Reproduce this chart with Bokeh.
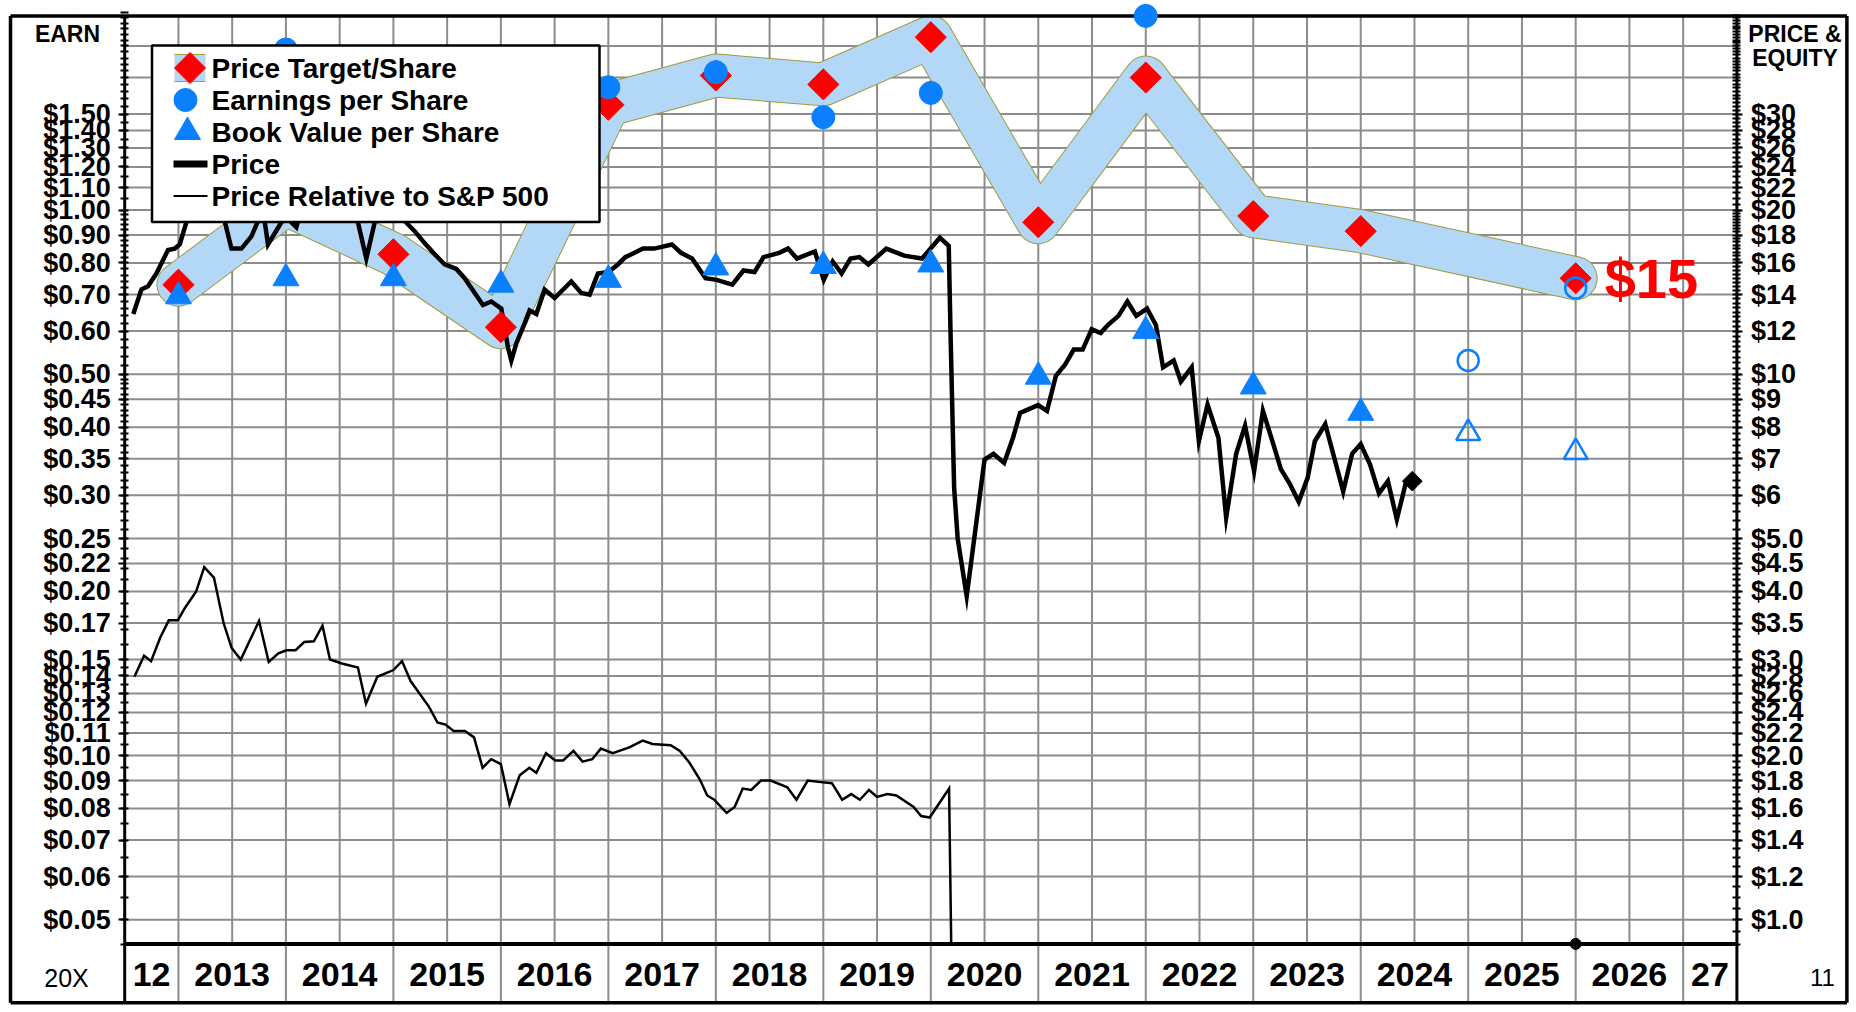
import math
from bokeh.plotting import figure
from bokeh.models import Range1d, LogAxis, LogScale, FixedTicker, CustomJSTickFormatter
from bokeh.core.properties import value
from bokeh.embed import file_html
from bokeh.resources import INLINE

# ---------------- data ----------------
target_years = [2013, 2014, 2015, 2016, 2017, 2018, 2019, 2020, 2021, 2022, 2023, 2024, 2026]
target_values = [14.6, 20.5, 16.6, 12.2, 31.2, 35.3, 34.0, 41.5, 19.0, 35.0, 19.5, 18.3, 15.0]

eps_years = [2014, 2017, 2018, 2019, 2020, 2022]
eps_values = [1.97, 1.68, 1.79, 1.48, 1.64, 2.27]
eps_est_years = [2025, 2026]
eps_est_values = [0.53, 0.72]

bvps_years = [2013, 2014, 2015, 2016, 2017, 2018, 2019, 2020, 2021, 2022, 2023, 2024]
bvps_values = [13.9, 15.0, 15.0, 14.6, 14.9, 15.7, 15.8, 15.9, 9.9, 12.0, 9.5, 8.5]
bvps_est_years = [2025, 2026]
bvps_est_values = [7.8, 7.2]

price_dates = [
    2012.58, 2012.655, 2012.717, 2012.795, 2012.903, 2012.965,
    2013.012, 2013.074, 2013.13, 2013.2, 2013.3, 2013.43, 2013.493, 2013.586, 2013.679, 2013.74, 2013.78, 2013.833, 2013.958,
    2014.0, 2014.05, 2014.097, 2014.17, 2014.25, 2014.35, 2014.45, 2014.55, 2014.67, 2014.748, 2014.826, 2014.9,
    2015.0, 2015.105, 2015.198, 2015.29, 2015.384, 2015.477, 2015.586, 2015.663, 2015.725, 2015.833, 2015.911,
    2016.004, 2016.066, 2016.097, 2016.144, 2016.221, 2016.267, 2016.33, 2016.407, 2016.5, 2016.655, 2016.748, 2016.826, 2016.903,
    2017.0, 2017.089, 2017.157, 2017.244, 2017.322, 2017.427, 2017.592, 2017.676, 2017.779, 2017.904,
    2018.008, 2018.153, 2018.257, 2018.36, 2018.444, 2018.589, 2018.672, 2018.755, 2018.921,
    2019.004, 2019.087, 2019.17, 2019.253, 2019.336, 2019.419, 2019.586, 2019.752, 2019.918,
    2020.084, 2020.167, 2020.184, 2020.217, 2020.25, 2020.334, 2020.417, 2020.5, 2020.583, 2020.682, 2020.765, 2020.831, 2020.998,
    2021.081, 2021.164, 2021.247, 2021.33, 2021.413, 2021.497, 2021.58, 2021.645, 2021.746, 2021.829, 2021.912,
    2022.012, 2022.095, 2022.161, 2022.26, 2022.327, 2022.427, 2022.494, 2022.575, 2022.676, 2022.748, 2022.841, 2022.924,
    2023.008, 2023.09, 2023.173, 2023.257, 2023.34, 2023.423, 2023.506, 2023.573, 2023.67, 2023.753, 2023.837, 2023.92,
    2024.0, 2024.087, 2024.17, 2024.253, 2024.336, 2024.42, 2024.48,
]
price_values = [
    12.9, 14.3, 14.5, 15.3, 16.9, 17.0,
    17.3, 19.0, 21.5, 23.0, 21.0, 19.1, 17.0, 17.0, 17.9, 19.1, 20.5, 17.3, 19.0,
    20.5, 19.0, 18.6, 21.0, 22.5, 21.0, 22.0, 20.5, 19.0, 16.3, 19.0, 21.0,
    20.0, 19.1, 18.3, 17.4, 16.6, 15.9, 15.6, 15.0, 14.4, 13.4, 13.6,
    13.2, 11.2, 10.6, 11.4, 12.4, 13.1, 12.9, 14.3, 13.8, 14.8, 14.1, 14.0, 15.3,
    15.4, 15.9, 16.4, 16.7, 17.0, 17.0, 17.3, 16.7, 16.3, 15.0,
    14.9, 14.6, 15.5, 15.4, 16.4, 16.7, 17.0, 16.3, 16.8,
    14.9, 16.1, 15.3, 16.3, 16.4, 15.9, 17.0, 16.5, 16.3,
    17.8, 17.2, 11.8, 6.2, 5.0, 3.92, 5.23, 6.98, 7.15, 6.88, 7.65, 8.5, 8.78,
    8.57, 9.94, 10.4, 11.1, 11.1, 12.1, 11.9, 12.3, 12.8, 13.6, 12.8,
    13.2, 12.3, 10.3, 10.6, 9.7, 10.3, 7.54, 8.8, 7.65, 5.46, 7.15, 8.05,
    6.65, 8.57, 7.6, 6.7, 6.3, 5.84, 6.46, 7.54, 8.1, 7.04, 6.1, 7.15,
    7.45, 6.83, 6.05, 6.37, 5.42, 6.33, 6.37,
]

rel_dates = [
    2012.59, 2012.68, 2012.745, 2012.83, 2012.91, 2012.995,
    2013.06, 2013.165, 2013.24, 2013.33, 2013.42, 2013.495, 2013.58, 2013.75, 2013.84, 2013.93,
    2014.005, 2014.09, 2014.17, 2014.26, 2014.34, 2014.41, 2014.52, 2014.67, 2014.745, 2014.85,
    2015.0, 2015.08, 2015.16, 2015.33, 2015.41, 2015.485, 2015.56, 2015.665, 2015.75, 2015.83, 2015.91,
    2016.0, 2016.08, 2016.175, 2016.265, 2016.33, 2016.42, 2016.505, 2016.58, 2016.675, 2016.76, 2016.85, 2016.93,
    2017.04, 2017.195, 2017.32, 2017.41, 2017.58, 2017.665, 2017.755, 2017.85, 2017.92, 2017.985,
    2018.1, 2018.175, 2018.25, 2018.33, 2018.42, 2018.51, 2018.665, 2018.75, 2018.855, 2018.955,
    2019.08, 2019.175, 2019.26, 2019.34, 2019.425, 2019.5, 2019.595, 2019.68, 2019.84, 2019.91, 2019.99,
    2020.17, 2020.19,
]
rel_values = [
    2.79, 3.05, 2.98, 3.29, 3.54, 3.54,
    3.73, 4.0, 4.43, 4.24, 3.5, 3.15, 3.0, 3.53, 2.97, 3.08,
    3.12, 3.12, 3.23, 3.24, 3.46, 3.0, 2.95, 2.9, 2.49, 2.79,
    2.87, 2.98, 2.74, 2.46, 2.3, 2.28, 2.22, 2.22, 2.16, 1.9, 1.97,
    1.93, 1.63, 1.84, 1.9, 1.86, 2.02, 1.96, 1.96, 2.04, 1.95, 1.97, 2.06,
    2.02, 2.07, 2.13, 2.1, 2.09, 2.04, 1.94, 1.81, 1.69, 1.66,
    1.57, 1.61, 1.74, 1.73, 1.8, 1.8, 1.75, 1.66, 1.8, 1.79,
    1.78, 1.66, 1.7, 1.66, 1.73, 1.68, 1.7, 1.69, 1.61, 1.55, 1.54,
    1.74, 0.9,
]

earn_ticks = [0.05, 0.06, 0.07, 0.08, 0.09, 0.10, 0.11, 0.12, 0.13, 0.14, 0.15, 0.175, 0.20,
              0.225, 0.25, 0.30, 0.35, 0.40, 0.45, 0.50, 0.60, 0.70, 0.80, 0.90, 1.00, 1.10,
              1.20, 1.30, 1.40, 1.50]
earn_labels = ["$0.05", "$0.06", "$0.07", "$0.08", "$0.09", "$0.10", "$0.11", "$0.12", "$0.13",
               "$0.14", "$0.15", "$0.17", "$0.20", "$0.22", "$0.25", "$0.30", "$0.35", "$0.40",
               "$0.45", "$0.50", "$0.60", "$0.70", "$0.80", "$0.90", "$1.00", "$1.10", "$1.20",
               "$1.30", "$1.40", "$1.50"]
price_ticks = [1.0, 1.2, 1.4, 1.6, 1.8, 2.0, 2.2, 2.4, 2.6, 2.8, 3.0, 3.5, 4.0, 4.5, 5.0, 6, 7, 8,
               9, 10, 12, 14, 16, 18, 20, 22, 24, 26, 28, 30]
price_labels = ["$1.0", "$1.2", "$1.4", "$1.6", "$1.8", "$2.0", "$2.2", "$2.4", "$2.6", "$2.8",
                "$3.0", "$3.5", "$4.0", "$4.5", "$5.0", "$6", "$7", "$8", "$9", "$10", "$12",
                "$14", "$16", "$18", "$20", "$22", "$24", "$26", "$28", "$30"]
unlabeled_grid = [35, 40]
year_centers = [2012.75] + [y + 0.5 for y in range(2013, 2027)] + [2027.25]
year_labels = ["12"] + [str(y) for y in range(2013, 2027)] + ["27"]
legend_labels = ["Price Target/Share", "Earnings per Share", "Book Value per Share",
                 "Price", "Price Relative to S&P 500"]
RATIO = 20  # price scale = 20 x earnings scale

assert len(price_dates) == len(price_values)
assert len(rel_dates) == len(rel_values)

# ---------------- page geometry ----------------
W, H, PAGE = 1850, 1006, 0
X_L_PX, X_R_PX = 124.2, 1736.4
YEAR0, YEAR1 = 2012.5, 2027.5
PX_YEAR = (X_R_PX - X_L_PX) / (YEAR1 - YEAR0)
Y20_PX, PX_DEC = 209.6, 545.5


def xd(px):
    return YEAR0 + (px - X_L_PX) / PX_YEAR


def yd(py):
    return RATIO * 10 ** ((Y20_PX - py) / PX_DEC)


x_start, x_end = xd(PAGE), xd(PAGE + W)
y_start, y_end = yd(PAGE + H), yd(PAGE)
PLOT_TOP, PLOT_BOT, OUT_BOT = yd(15.6), yd(943.4), yd(1002.2)
OUT_L, OUT_R = xd(10.0), xd(1846.4)

FONT = value("Liberation Sans")
GRID = "#8c8c8c"
BLUE = "#0a80ff"
BAND = "#b3d7f7"
BAND_EDGE = "#9d9d3c"

p = figure(width=W, height=H, x_range=Range1d(x_start, x_end), y_range=Range1d(y_start, y_end),
           y_axis_type="log", x_axis_location=None, y_axis_location=None,
           toolbar_location=None, output_backend="svg", min_border=0)
p.extra_y_ranges = {"earn": Range1d(y_start / RATIO, y_end / RATIO)}
p.extra_y_scales = {"earn": LogScale()}
p.outline_line_color = None
p.xgrid.grid_line_color = None
p.ygrid.grid_line_color = None
p.background_fill_color = "white"
p.border_fill_color = "white"

# grid
hy = price_ticks + unlabeled_grid
p.segment(x0=[YEAR0] * len(hy), x1=[YEAR1] * len(hy), y0=hy, y1=hy,
          line_color=GRID, line_width=2)
vx = [2013.0 + 0.5 * i for i in range(29)]
p.segment(x0=vx, x1=vx, y0=[PLOT_BOT] * len(vx), y1=[PLOT_TOP] * len(vx),
          line_color=GRID, line_width=2)
sx = list(range(2013, 2028))
p.segment(x0=sx, x1=sx, y0=[OUT_BOT] * len(sx), y1=[PLOT_BOT] * len(sx),
          line_color=GRID, line_width=2)

# price-target band
p.line(target_years, target_values, line_width=44, line_color=BAND_EDGE,
       line_join="round", line_cap="round")
p.line(target_years, target_values, line_width=42, line_color=BAND,
       line_join="round", line_cap="round")

# lines
p.line(rel_dates, rel_values, line_color="black", line_width=2.5, line_join="miter")
p.line(price_dates, price_values, line_color="black", line_width=4.5, line_join="miter")

# borders & axis lines
p.segment(x0=[OUT_L, OUT_L, OUT_L, OUT_R], x1=[OUT_R, OUT_R, OUT_L, OUT_R],
          y0=[PLOT_TOP, OUT_BOT, OUT_BOT, OUT_BOT], y1=[PLOT_TOP, OUT_BOT, PLOT_TOP, PLOT_TOP],
          line_color="black", line_width=3.5)
p.segment(x0=[YEAR0, YEAR1], x1=[YEAR0, YEAR1], y0=[OUT_BOT, OUT_BOT], y1=[PLOT_TOP, PLOT_TOP],
          line_color="black", line_width=3)
p.segment(x0=[YEAR0], x1=[YEAR1], y0=[PLOT_BOT], y1=[PLOT_BOT], line_color="black", line_width=4)

# markers
DIAMOND = dict(marker="square", angle=math.pi / 4, size=22, fill_color="#ff0000", line_color="#ff0000")
TRI = dict(marker="triangle", size=26, fill_color=BLUE, line_color=BLUE)
DOT = dict(marker="circle", size=23, fill_color=BLUE, line_color=BLUE)
p.scatter(target_years, target_values, **DIAMOND)
p.scatter(bvps_years, bvps_values, **TRI)
p.scatter(bvps_est_years, bvps_est_values, marker="triangle", size=24,
          fill_color=None, line_color=BLUE, line_width=2.5)
p.scatter(eps_years, eps_values, y_range_name="earn", **DOT)
p.scatter(eps_est_years, eps_est_values, marker="circle", size=21, y_range_name="earn",
          fill_color=None, line_color=BLUE, line_width=2.5)
p.scatter([price_dates[-1]], [price_values[-1]], marker="square", angle=math.pi / 4, size=14,
          fill_color="black", line_color="black")
p.scatter([target_years[-1]], [PLOT_BOT], marker="circle", size=11,
          fill_color="black", line_color="black")

# target label
p.text(x=[target_years[-1]], y=[target_values[-1]], text=["$%d" % round(target_values[-1])],
       x_offset=29, text_font=FONT, text_font_style="bold", text_font_size="56px",
       text_color="#ff0000", text_align="left", text_baseline="middle")

# axes
left_minor = ([0.045 + 0.005 * i for i in range(21)] + [0.15 + 0.01 * i for i in range(35)]
              + [0.5 + 0.02 * i for i in range(25)] + [1.0 + 0.05 * i for i in range(27)])
right_minor = ([0.9 + 0.05 * i for i in range(22)] + [2.0 + 0.1 * i for i in range(30)]
               + [5.0 + 0.2 * i for i in range(25)] + [10.0 + 0.25 * i for i in range(40)]
               + [20.0 + 0.5 * i for i in range(52)])
code = ("let b = 0; for (let i = 0; i < vals.length; i++) {"
        " if (Math.abs(vals[i] - tick) < Math.abs(vals[b] - tick)) { b = i; } }"
        " return labs[b];")


def style_axis(ax, standoff):
    ax.axis_line_color = None
    ax.major_tick_in = 0
    ax.major_tick_out = 6
    ax.minor_tick_in = 4
    ax.minor_tick_out = 4
    ax.major_tick_line_width = 2
    ax.minor_tick_line_width = 2
    ax.major_tick_line_color = "black"
    ax.minor_tick_line_color = "black"
    ax.major_label_text_font = "Liberation Sans"
    ax.major_label_text_font_style = "bold"
    ax.major_label_text_font_size = "27px"
    ax.major_label_text_color = "black"
    ax.major_label_standoff = standoff


left_axis = LogAxis(y_range_name="earn", fixed_location=YEAR0,
                    ticker=FixedTicker(ticks=earn_ticks, minor_ticks=left_minor),
                    formatter=CustomJSTickFormatter(args=dict(vals=earn_ticks, labs=earn_labels), code=code))
style_axis(left_axis, 8)
p.add_layout(left_axis, "left")
right_axis = LogAxis(fixed_location=YEAR1,
                     ticker=FixedTicker(ticks=price_ticks, minor_ticks=right_minor),
                     formatter=CustomJSTickFormatter(args=dict(vals=price_ticks, labs=price_labels), code=code))
style_axis(right_axis, 8)
p.add_layout(right_axis, "right")

# year labels
p.text(x=year_centers, y=[yd(974)] * len(year_centers), text=year_labels, text_font=FONT,
       text_font_style="bold", text_font_size="34px", text_align="center", text_baseline="middle")

# corner texts
p.text(x=[xd(67)], y=[yd(33)], text=["EARN"], text_font=FONT, text_font_style="bold",
       text_font_size="23px", text_align="center", text_baseline="middle")
p.text(x=[xd(1794.5), xd(1794.5)], y=[yd(33), yd(57)], text=["PRICE &", "EQUITY"], text_font=FONT,
       text_font_style="bold", text_font_size="23px", text_align="center", text_baseline="middle")
p.text(x=[xd(66)], y=[yd(977)], text=["%dX" % RATIO], text_font=FONT,
       text_font_size="25px", text_align="center", text_baseline="middle")
p.text(x=[xd(1822)], y=[yd(977)], text=["11"], text_font=FONT,
       text_font_size="24px", text_align="center", text_baseline="middle")

# legend box (drawn on top of the plot content)
p.quad(left=[xd(151.5)], right=[xd(599)], bottom=[yd(221.4)], top=[yd(45)],
       fill_color="white", line_color="black", line_width=2.5)
rows = [yd(67.5 + 32 * i) for i in range(5)]
p.quad(left=[xd(174)], right=[xd(205)], bottom=[yd(81)], top=[yd(54)],
       fill_color=BAND, line_color=None)
p.segment(x0=[xd(174), xd(174)], x1=[xd(205), xd(205)], y0=[yd(81), yd(54)], y1=[yd(81), yd(54)],
          line_color=BAND_EDGE, line_width=1.2)
p.scatter([xd(189.5)], [rows[0]], **DIAMOND)
p.scatter([xd(185)], [rows[1]], **DOT)
p.scatter([xd(187)], [rows[2]], **TRI)
p.segment(x0=[xd(173)], x1=[xd(207)], y0=[rows[3]], y1=[rows[3]], line_color="black", line_width=7)
p.segment(x0=[xd(173)], x1=[xd(207)], y0=[rows[4]], y1=[rows[4]], line_color="black", line_width=2)
p.text(x=[xd(211)] * 5, y=rows, text=legend_labels, text_font=FONT, text_font_style="bold",
       text_font_size="28px", text_align="left", text_baseline="middle")

open("out.html", "w").write(file_html(p, INLINE))
